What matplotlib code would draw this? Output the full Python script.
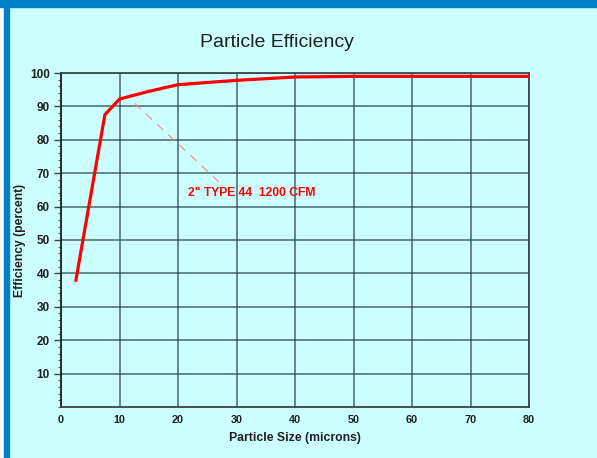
import matplotlib
matplotlib.use("Agg")
import matplotlib.pyplot as plt
from matplotlib.patches import Rectangle
from matplotlib.ticker import MultipleLocator

# Data
particle_size = [2.5, 7.5, 10, 15, 20, 30, 40, 50, 60, 70, 80]
efficiency = [37.5, 87.5, 92.2, 94.5, 96.5, 97.8, 98.8, 99.0, 99.0, 99.0, 99.0]
x_ticks = [0, 10, 20, 30, 40, 50, 60, 70, 80]
y_ticks = [10, 20, 30, 40, 50, 60, 70, 80, 90, 100]
title = "Particle Efficiency"
x_label = "Particle Size (microns)"
y_label = "Efficiency (percent)"
series_label = '2" TYPE 44  1200 CFM'
leader_x = [12.6, 27.0]
leader_y = [90.9, 67.4]

plt.rcParams['font.family'] = ['Liberation Sans', 'DejaVu Sans']

bg = '#CCFFFF'
fig = plt.figure(figsize=(5.97, 4.58), dpi=100)
fig.patch.set_facecolor(bg)
W, H = 597, 458
# white strip at far left, blue borders
fig.patches.append(Rectangle((0, 0), 4 / W, 1, transform=fig.transFigure, color='white', zorder=-1))
fig.patches.append(Rectangle((4 / W, 0), 5 / W, 1, transform=fig.transFigure, color='#0080C8', zorder=-1))
fig.patches.append(Rectangle((0, 1 - 7 / H), 1, 7 / H, transform=fig.transFigure, color='#0080C8', zorder=-1))

ax = fig.add_axes([61 / W, 1 - 407 / H, 468 / W, 334 / H])
ax.set_facecolor(bg)
ax.set_xlim(0, 80)
ax.set_ylim(0, 100)
ax.set_xticks(x_ticks)
ax.set_xticklabels([str(v) for v in x_ticks])
ax.set_yticks(y_ticks)
ax.set_yticklabels([str(v) for v in y_ticks])
ax.yaxis.set_minor_locator(MultipleLocator(2))
ax.tick_params(axis='x', length=0, pad=6, labelsize=7.8)
ax.tick_params(axis='y', which='major', length=5, width=1, pad=3, labelsize=8.5, color='#404040')
ax.tick_params(axis='y', which='minor', length=2, width=0.8, color='#606060')
for lab in ax.get_xticklabels() + ax.get_yticklabels():
    lab.set_fontweight('bold')
    lab.set_color('#202020')

ax.grid(True, which='major', color='#2A4545', alpha=0.75, linewidth=1.2)
for s in ax.spines.values():
    s.set_color('#404848')
    s.set_linewidth(1.3)
ax.spines['left'].set_color('#202020')
ax.spines['bottom'].set_color('#404040')

ax.plot(particle_size, efficiency, color='#FF0000', linewidth=2.3, solid_capstyle='butt', zorder=5, clip_on=False)
ax.plot(leader_x, leader_y, color='#FF8080', linewidth=1.0, dashes=(6, 5), alpha=0.8, zorder=4)
ax.text(21.7, 64, series_label, color='#FF0000', fontsize=8.7, fontweight='bold', va='center', ha='left')

fig.text(277 / W, 1 - 47 / H, title, fontsize=14, ha='center', va='baseline', color='#202020')
ax.set_xlabel(x_label, fontsize=8.8, fontweight='bold', labelpad=5, color='#202020')
ax.set_ylabel(y_label, fontsize=8.7, fontweight='bold', color='#202020', va='center')
ax.yaxis.set_label_coords((20 - 61) / 468, 0.5)

fig.savefig('out.png', dpi=100, facecolor=fig.get_facecolor())
